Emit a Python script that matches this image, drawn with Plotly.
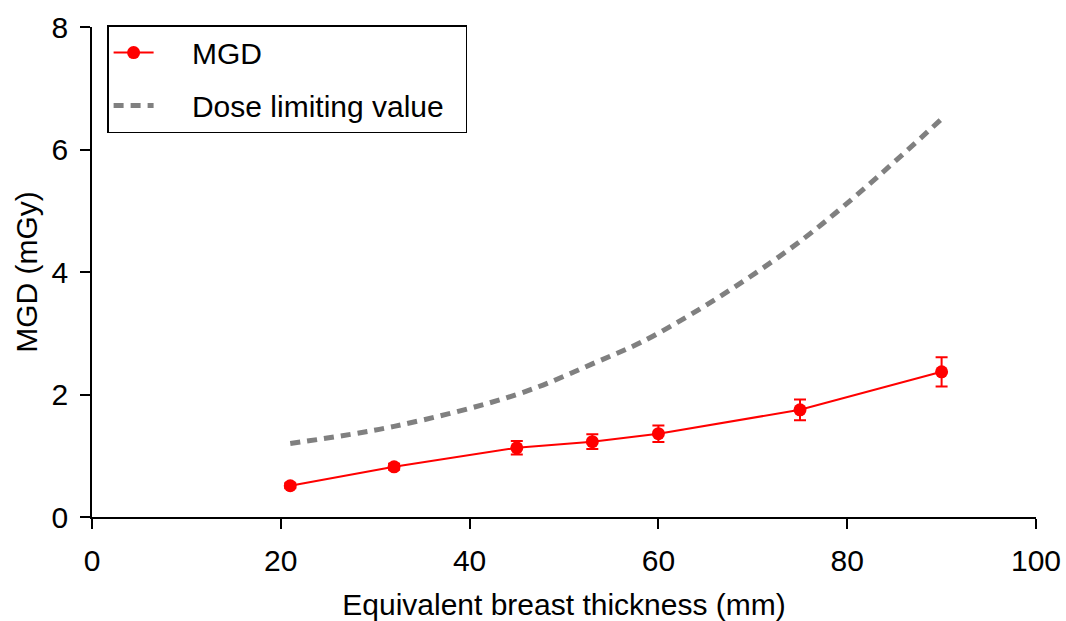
import plotly.graph_objects as go

# Equivalent breast thickness (mm)
thickness = [21, 32, 45, 53, 60, 75, 90]
# Mean glandular dose (mGy) and its uncertainty
mgd = [0.51, 0.82, 1.13, 1.23, 1.36, 1.75, 2.37]
mgd_err = [0.04, 0.05, 0.11, 0.12, 0.135, 0.17, 0.24]
# Dose limiting value (mGy)
dose_limit = [1.2, 1.48, 2.0, 2.5, 3.0, 4.5, 6.5]

x_ticks = [0, 20, 40, 60, 80, 100]
y_ticks = [0, 2, 4, 6, 8]

FONT = "Liberation Sans, Arial, sans-serif"
SIZE = 30
PAD = "\u00a0" * 4  # extra room between legend symbol and label
TAIL = "\u00a0" * 2  # right padding inside the legend box

fig = go.Figure()

fig.add_trace(go.Scatter(
    x=thickness, y=mgd, name=PAD + "MGD", mode="lines+markers",
    line=dict(color="#ff0000", width=2),
    marker=dict(color="#ff0000", size=13),
    error_y=dict(type="data", array=mgd_err, color="#ff0000", thickness=2, width=6),
    legendgroup="a",
))

fig.add_trace(go.Scatter(
    x=thickness, y=dose_limit, name=PAD + "Dose limiting value" + TAIL, mode="lines",
    line=dict(color="#808080", width=5, dash="10px,7px", shape="spline", smoothing=1.0),
    legendgroup="b",
))

fig.update_layout(
    width=1066, height=621,
    margin=dict(l=92, r=30, t=27, b=104),
    paper_bgcolor="white", plot_bgcolor="white",
    font=dict(family=FONT, size=SIZE, color="black"),
    showlegend=True,
    legend=dict(
        x=0.016, y=1.004, xanchor="left", yanchor="top",
        bordercolor="black", borderwidth=1.5, bgcolor="white",
        font=dict(family=FONT, size=SIZE, color="black"),
        tracegroupgap=11, traceorder="grouped",
        itemwidth=40,
    ),
    xaxis=dict(
        range=[0, 100], tickvals=x_ticks, showgrid=False, zeroline=False,
        showline=True, linecolor="black", linewidth=1.5, automargin=False,
        ticks="outside", ticklen=10, tickwidth=1.5, tickcolor="black",
        ticklabelstandoff=6,
        tickfont=dict(family=FONT, size=SIZE),
        title=dict(text="Equivalent breast thickness (mm)", font=dict(family=FONT, size=SIZE), standoff=18),
    ),
    yaxis=dict(
        range=[0, 8], tickvals=y_ticks, showgrid=False, zeroline=False,
        showline=True, linecolor="black", linewidth=1.5, automargin=False,
        ticks="outside", ticklen=10, tickwidth=1.5, tickcolor="black",
        ticklabelstandoff=6,
        tickfont=dict(family=FONT, size=SIZE),
        title=dict(text="MGD (mGy)", font=dict(family=FONT, size=SIZE), standoff=5),
    ),
)

fig.write_html("out.html")
